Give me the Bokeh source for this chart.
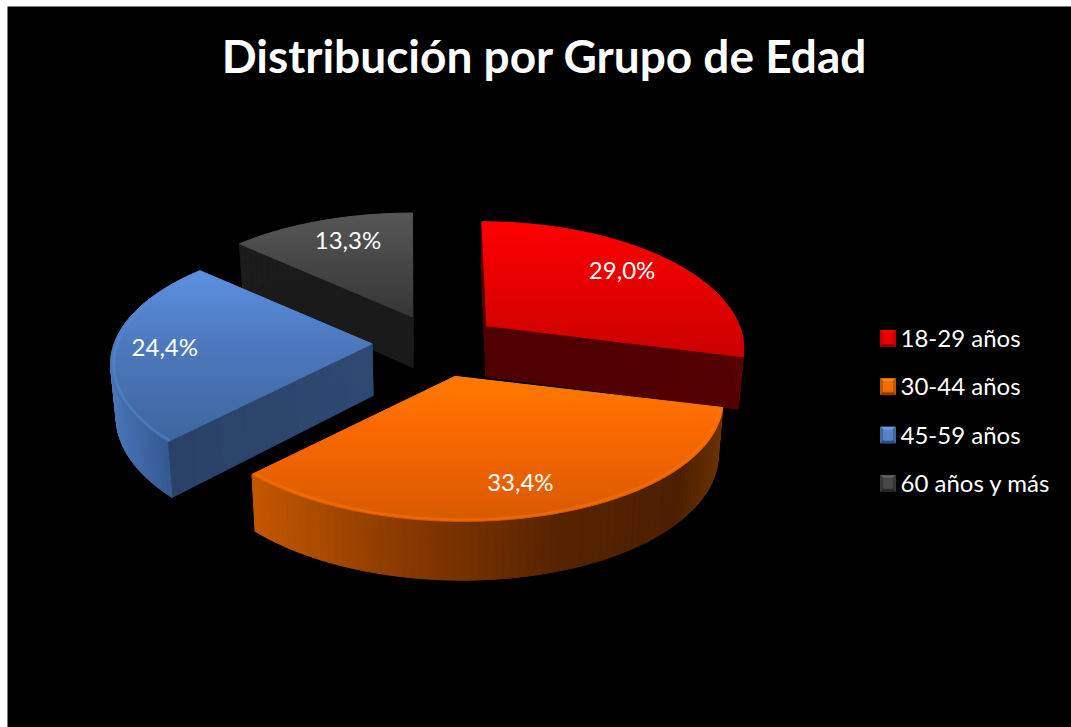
import numpy as np
from bokeh.plotting import figure
from bokeh.models import Range1d
from bokeh.core.properties import value
from bokeh.embed import file_html
from bokeh.resources import INLINE

TITLE = "Distribución por Grupo de Edad"
CATEGORIES = ["18-29 años", "30-44 años", "45-59 años", "60 años y más"]
VALUES = [29.0, 33.4, 24.4, 13.3]
LABELS = ["29,0%", "33,4%", "24,4%", "13,3%"]

# layout and projection of the exploded 3D pie (screen pixels)
W, H = 1064, 721
X0, Y0 = 7, 6
CX, CY, RX, RY, PERSP, EXPLODE = 437.5, 345.0, 263.0, 121.0, 0.165, 0.24
RX_SCALE = [0.96, 1.0, 0.98, 0.985]
SHEAR = [5.0, 8.0, 0.0, 0.0]
NUDGE_X = [-1.0, 0.0, -3.0, 0.0]
NUDGE_Y = [-2.0, 3.0, -2.5, -2.0]
LABEL_FX = [0.76, 0.71, 0.80, 0.706]
LABEL_FY = [0.83, 0.757, 0.79, 0.806]

TOP_STOPS = [
    [(221, "#ff0000"), (355, "#cc0000")],
    [(375, "#ff7a00"), (430, "#fa6800"), (520, "#d95a00")],
    [(270, "#5c90e2"), (345, "#4c79bd"), (440, "#3f669e")],
    [(214, "#565656"), (317, "#363636")],
]
RIM_STOPS = [
    [(700, "#5a0000"), (745, "#5a0000")],
    [(255, "#c25700"), (400, "#8a3a00"), (560, "#562300"), (680, "#4e2000"), (722, "#6c3200")],
    [(110, "#4a77b8"), (170, "#33578f")],
    [(240, "#1c1c1c"), (415, "#1c1c1c")],
]
EDGE_STOPS = [
    [(480, "#500000"), (745, "#520000")],
    [(250, "#c25700"), (460, "#c25700")],
    [(170, "#2a4268"), (373, "#2e4a72")],
    [(240, "#1a1a1a"), (415, "#1a1a1a")],
]
BEVEL = [None, "#ff7a00", "#5a8cd8", None]
SWATCH = [
    ("#ff0000", "#e80000", "#c80000", "#8c0000"),
    ("#ff8a10", "#ee6c00", "#c05500", "#8c4000"),
    ("#6c9ce2", "#5482c8", "#41689f", "#2c4e80"),
    ("#5e5e5e", "#484848", "#383838", "#262626"),
]
LEG_X, LEG_Y0, LEG_STEP = 880.0, 330.0, 48.3


def rgb(h):
    return np.array([int(h[i:i + 2], 16) for i in (1, 3, 5)], float)


def ramp(stops, u):
    pos = [a for a, _ in stops]
    cols = np.array([rgb(c) for _, c in stops])
    c = [int(round(np.interp(u, pos, cols[:, k]))) for k in range(3)]
    return "#%02x%02x%02x" % tuple(c)


def band_clip(poly, y0, y1):
    def clip(pts, keep, cross):
        out = []
        for i, a in enumerate(pts):
            b = pts[(i + 1) % len(pts)]
            if keep(a):
                out.append(a)
            if keep(a) != keep(b):
                f = (cross - a[1]) / (b[1] - a[1])
                out.append((a[0] + f * (b[0] - a[0]), cross))
        return out
    pts = clip(poly, lambda q: q[1] >= y0, y0)
    if pts:
        pts = clip(pts, lambda q: q[1] <= y1, y1)
    return pts


def lower(pt):
    x, y = pt
    return (CX + (x - CX) * 0.983, y + 50.0 + 0.04 * (y - 300.0))


p = figure(width=W, height=H, output_backend="svg", toolbar_location=None,
           x_range=Range1d(X0, X0 + W), y_range=Range1d(Y0 + H, Y0),
           min_border=0, margin=(Y0, 0, 0, X0),
           background_fill_color="black", border_fill_color="black", outline_line_color=None)
p.axis.visible = False
p.grid.visible = False

total = sum(VALUES)
edges = np.cumsum([0.0] + VALUES) / total * 2 * np.pi


def poly(xs_ys_list, colors):
    xs = [[q[0] for q in g] for g in xs_ys_list]
    ys = [[q[1] for q in g] for g in xs_ys_list]
    p.patches(xs, ys, fill_color=colors, line_color=colors, line_width=1.0)


slices = []
for i, v in enumerate(VALUES):
    mid = (edges[i] + edges[i + 1]) / 2
    ax = CX + RX * EXPLODE * np.sin(mid) + NUDGE_X[i]
    ay = CY - RY * EXPLODE * np.cos(mid) + NUDGE_Y[i]

    def rim(t, ax=ax, ay=ay, i=i):
        d = -np.cos(t)
        s = 1 / (1 - PERSP * d)
        return (ax + RX * RX_SCALE[i] * np.sin(t) * s + SHEAR[i] * d, ay + RY * d * s)

    ts = np.linspace(edges[i], edges[i + 1], max(8, int(np.degrees(edges[i + 1] - edges[i]) / 1.5)))
    arc = [rim(t) for t in ts]
    slices.append((i, mid, (ax, ay), arc, rim))

for i, mid, apex, arc, rim in [slices[k] for k in (3, 2, 0, 1)]:
    for a, b in ((arc[0], apex), (apex, arc[-1])):
        n = 8
        gs, cs = [], []
        for k in range(n):
            p0 = (a[0] + (b[0] - a[0]) * k / n, a[1] + (b[1] - a[1]) * k / n)
            p1 = (a[0] + (b[0] - a[0]) * (k + 1) / n, a[1] + (b[1] - a[1]) * (k + 1) / n)
            gs.append([p0, p1, lower(p1), lower(p0)])
            cs.append(ramp(EDGE_STOPS[i], (p0[0] + p1[0]) / 2))
        poly(gs, cs)
    gs, cs = [], []
    for a, b in zip(arc[:-1], arc[1:]):
        gs.append([a, b, lower(b), lower(a)])
        cs.append(ramp(RIM_STOPS[i], (a[0] + b[0]) / 2))
    poly(gs, cs)
    outline = [apex] + arc
    y_min, y_max = min(q[1] for q in outline), max(q[1] for q in outline)
    gs, cs = [], []
    y = np.floor(y_min)
    while y < y_max:
        c = band_clip(outline, y, y + 3)
        if len(c) > 2:
            gs.append(c)
            cs.append(ramp(TOP_STOPS[i], y + 1.5))
        y += 3
    poly(gs, cs)
    if BEVEL[i]:
        inner = [(q[0] + (apex[0] - q[0]) * 0.012, q[1] + (apex[1] - q[1]) * 0.012) for q in arc]
        p.line([q[0] for q in inner], [q[1] for q in inner], line_color=BEVEL[i], line_width=2.5, line_alpha=0.45)

lx, ly = [], []
for (i, mid, apex, arc, rim) in slices:
    q = rim(mid)
    lx.append(apex[0] + (q[0] - apex[0]) * LABEL_FX[i])
    ly.append(apex[1] + (q[1] - apex[1]) * LABEL_FY[i])
p.text(lx, ly, text=LABELS, text_color="white", text_font=value("Lato"), text_font_size="24px",
       text_align="center", text_baseline="middle")

for i, name in enumerate(CATEGORIES):
    x0, x1, y0, y1 = LEG_X, LEG_X + 15, LEG_Y0 + i * LEG_STEP, LEG_Y0 + i * LEG_STEP + 16
    hi, ce, me, lo = SWATCH[i]
    a0, a1, b0, b1 = x0 + 3, x1 - 3, y0 + 3, y1 - 3
    poly([[(x0, y0), (x1, y0), (a1, b0), (a0, b0)],
          [(x0, y0), (x0, y1), (a0, b1), (a0, b0)],
          [(x1, y0), (x1, y1), (a1, b1), (a1, b0)],
          [(x0, y1), (x1, y1), (a1, b1), (a0, b1)],
          [(a0, b0), (a1, b0), (a1, b1), (a0, b1)]], [hi, me, me, lo, ce])
p.text([LEG_X + 20] * 4, [LEG_Y0 + 7 + i * LEG_STEP for i in range(4)], text=CATEGORIES,
       text_color="white", text_font=value("Lato"), text_font_size="24px",
       text_align="left", text_baseline="middle")

p.text([544], [55], text=[TITLE], text_color="white", text_font=value("Lato"),
       text_font_size="46px", text_font_style="bold", text_align="center", text_baseline="middle")

open("out.html", "w").write(file_html(p, INLINE))
